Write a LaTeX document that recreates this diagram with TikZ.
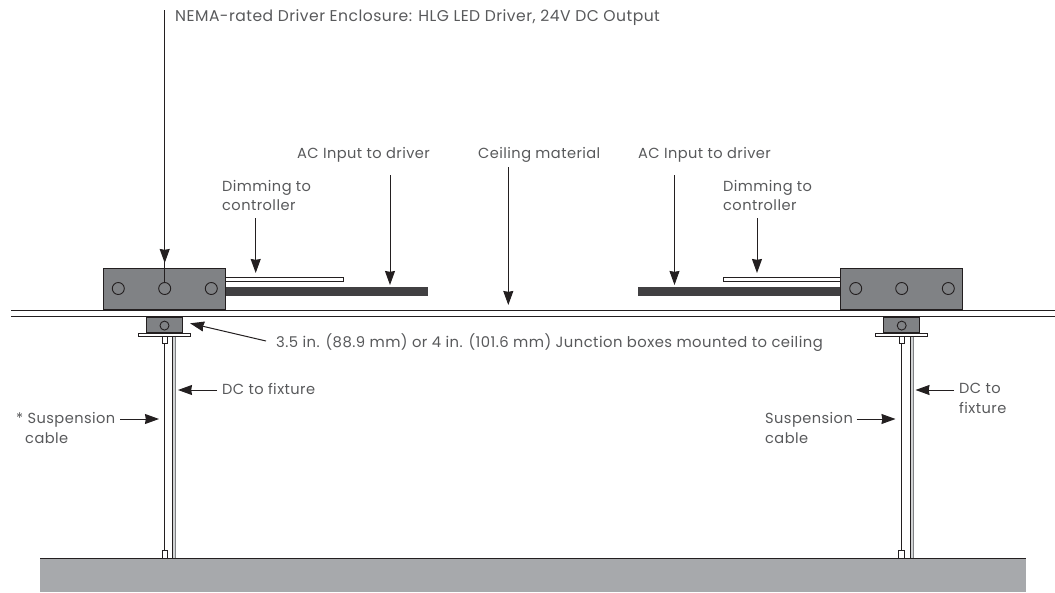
\documentclass[tikz,border=0pt]{standalone}
\usepackage{fontspec}
\setmainfont[LetterSpace=3]{Poppins}
\usetikzlibrary{arrows.meta,decorations.markings}
\definecolor{boxgray}{HTML}{808285}
\definecolor{fixgray}{HTML}{A7A9AC}
\definecolor{ink}{HTML}{231F20}
\definecolor{barc}{HTML}{414042}
\definecolor{txt}{HTML}{58595B}
\definecolor{gapc}{HTML}{D1D3D4}
\tikzset{
  x=1pt,y=-1pt,
  lbl/.style={font=\fontsize{14.6}{19.4}\selectfont,text=txt,inner sep=0pt,align=left,anchor=base west},
  hold/.style={draw=ink,line width=1pt,fill=boxgray},
  hole/.style={draw=ink,line width=0.9pt},
  lead/.style={draw=ink,line width=1pt,-{Stealth[length=14pt,width=10pt,inset=0.8pt]}},
  thin box/.style={draw=ink,line width=0.8pt,fill=white},
}
\begin{document}
\begin{tikzpicture}
\useasboundingbox (0,0) rectangle (1055,592);
% fixture
\path[fill=fixgray] (40,558) rectangle (1026,592);
\draw[ink,line width=1pt] (40,558) -- (1026,558);
% ceiling
\draw[ink,line width=1pt] (11,310) -- (1055,310);
\draw[ink,line width=1pt] (11,316.5) -- (1055,316.5);
% cables left
\coordinate (cl1) at (164.5,343); \coordinate (cl2) at (164.5,551);
\draw[ink,line width=1pt] (cl1) -- (cl2);
\path[fill=gapc] (172.8,336) rectangle (175.8,558);
\draw[ink,line width=0.8pt] (172.8,336) -- (172.8,558);
\draw[boxgray,line width=0.8pt] (175.8,336) -- (175.8,558);
\draw[thin box] (162,336) rectangle (167.3,343.5);
\draw[thin box] (162,550.8) rectangle (167,558);
% cables right
\coordinate (cr1) at (901.7,343); \coordinate (cr2) at (901.7,551);
\draw[ink,line width=1pt] (cr1) -- (cr2);
\path[fill=gapc] (910.2,336) rectangle (913,558);
\draw[ink,line width=0.8pt] (910.2,336) -- (910.2,558);
\draw[boxgray,line width=0.8pt] (913,336) -- (913,558);
\draw[thin box] (899,336) rectangle (904.3,343.5);
\draw[thin box] (898.8,550.8) rectangle (904.4,558);
% dimming & AC
\draw[thin box] (225,277.5) rectangle (343,281);
\path[fill=barc] (225,287) rectangle (428,296);
\draw[thin box] (723,277.5) rectangle (840,281);
\path[fill=barc] (638,287) rectangle (840,296);
% enclosures
\draw[hold] (103.5,268.4) rectangle (225.3,309.4);
\draw[hold] (840.4,268.4) rectangle (962.7,309.4);
\foreach \n/\x/\y in {a/118.3/288.5,b/164.7/288.5,c/211.3/288.5,d/855.7/288.5,e/901.7/288.5,f/948.3/288.5}
  \node[hole,circle,minimum size=12pt,inner sep=0pt] (hole\n) at (\x,\y) {};
% junction boxes
\node[hold,inner sep=0pt,minimum width=36.5pt,minimum height=15.5pt] (jl) at (164.4,324.8) {};
\node[hold,inner sep=0pt,minimum width=36.5pt,minimum height=15.5pt] (jr) at (901.7,324.8) {};
\node[hole,circle,minimum size=9pt,inner sep=0pt] (jlh) at (164.5,325.6) {};
\node[hole,circle,minimum size=9pt,inner sep=0pt] (jrh) at (901.7,325.6) {};
\draw[thin box] (138.5,333) rectangle (190.5,336);
\draw[thin box] (875.4,333) rectangle (927.7,336);
% labels
\node[lbl,font=\fontsize{15.6}{19.4}\selectfont] (t1) at (175,21) {NEMA-rated Driver Enclosure: HLG LED Driver, 24V DC Output};
\node[lbl] (t2) at (297,158) {AC Input to driver};
\node[lbl] (t3) at (478,158) {Ceiling material};
\node[lbl] (t4) at (638,158) {AC Input to driver};
\node[lbl] (t5) at (222,210.5) {Dimming to\\controller};
\node[lbl] (t6) at (723,210.5) {Dimming to\\controller};
\node[lbl,font=\fontsize{14.8}{19.4}\selectfont] (t7) at (276,347.5) {3.5 in. (88.9 mm) or 4 in. (101.6 mm) Junction boxes mounted to ceiling};
\node[lbl] (t8) at (222,394) {DC to fixture};
\node[lbl] (t9) at (959,413) {DC to\\fixture};
\node[lbl] (t10) at (16,443) {* Suspension\\\hspace*{9pt}cable};
\node[lbl] (t11) at (765,443) {Suspension\\cable};
% connectors
\coordinate (n0) at (164.7,10);
\draw[ink,line width=1pt,postaction={decorate},decoration={markings,mark=at position 253pt with {\arrow{Stealth[length=14pt,width=10pt,inset=0.8pt]}}}] (n0) -- (holeb.north);
\coordinate (a1) at (255.7,218); \coordinate (a1e) at (255.7,273);
\draw[lead] (a1) -- (a1e);
\coordinate (a2) at (390,175); \coordinate (a2e) at (390,285);
\draw[lead] (a2) -- (a2e);
\coordinate (a3) at (508.3,167); \coordinate (a3e) at (508.3,305);
\draw[lead] (a3) -- (a3e);
\coordinate (a4) at (674.5,175); \coordinate (a4e) at (674.5,285);
\draw[lead] (a4) -- (a4e);
\coordinate (a5) at (757,218); \coordinate (a5e) at (757,273);
\draw[lead] (a5) -- (a5e);
\coordinate (a6) at (266,341);
\draw[lead] (a6) -- ([xshift=7pt,yshift=1.5pt]jl.east);
\coordinate (a7) at (217,390); \coordinate (a7e) at (178,390);
\draw[lead] (a7) -- (a7e);
\coordinate (a8) at (120,419); \coordinate (a8e) at (159,419);
\draw[lead] (a8) -- (a8e);
\coordinate (a9) at (954,390); \coordinate (a9e) at (915.5,390);
\draw[lead] (a9) -- (a9e);
\coordinate (a10) at (856.7,419); \coordinate (a10e) at (895.5,419);
\draw[lead] (a10) -- (a10e);
\end{tikzpicture}
\end{document}
